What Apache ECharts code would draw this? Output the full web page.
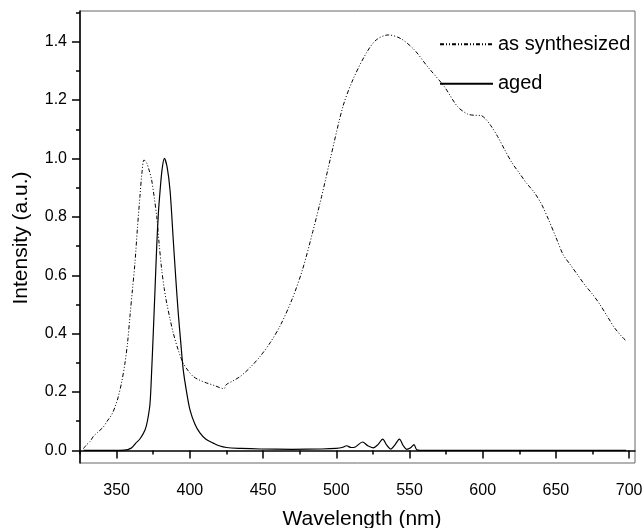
<!DOCTYPE html>
<style>
body {margin: 0;}
#div_echart {height: 528px; width: 644px;}
</style>
<script src='https://cdn.jsdelivr.net/npm/echarts@6/dist/echarts.min.js'></script>
<div id='div_echart'></div>
<script>
// spectra: wavelength (nm) and intensity (a.u.)
let synthWl = [327.3, 329.6, 331.8, 334.1, 337, 340.9, 343.5, 346.6, 349, 351.2, 353.5, 355.7, 357.5, 359.1, 360.8, 362.5, 364.2, 365.9, 367.3, 368.7, 370.5, 372.2, 373.9, 375.6, 377.4, 379, 380.8, 382.5, 384.2, 386.5, 388.7, 392, 395.5, 399, 402.4, 407, 411.5, 417, 422.9, 423.8, 424.8, 429, 434.3, 441, 448, 455, 462, 470, 477, 484, 490, 496, 504.5, 511.3, 520.4, 527.3, 535.5, 544.2, 553.3, 562.4, 573.8, 582.9, 589.7, 594, 598.8, 602, 605.6, 610.2, 615, 620, 625, 630, 635, 640, 645, 650, 655, 660, 665, 670, 675, 680, 685, 690, 695, 698]
let synthInt = [0.006, 0.02, 0.03, 0.048, 0.062, 0.08, 0.1, 0.122, 0.15, 0.185, 0.235, 0.299, 0.37, 0.459, 0.55, 0.641, 0.76, 0.869, 0.95, 0.995, 0.985, 0.96, 0.927, 0.87, 0.801, 0.71, 0.619, 0.555, 0.505, 0.45, 0.402, 0.345, 0.299, 0.272, 0.253, 0.24, 0.231, 0.222, 0.212, 0.213, 0.225, 0.237, 0.253, 0.283, 0.322, 0.37, 0.43, 0.52, 0.62, 0.75, 0.87, 1.0, 1.177, 1.269, 1.36, 1.406, 1.423, 1.41, 1.372, 1.314, 1.246, 1.177, 1.152, 1.148, 1.147, 1.135, 1.112, 1.075, 1.03, 0.985, 0.95, 0.915, 0.885, 0.845, 0.79, 0.73, 0.67, 0.635, 0.6, 0.565, 0.535, 0.5, 0.46, 0.42, 0.39, 0.375]
let agedWl = [327.5, 340, 355, 360, 363.1, 366, 369.4, 371, 372.8, 374, 375.1, 376.3, 377.4, 378.5, 379.7, 381, 382.6, 384.5, 386.5, 388.7, 390.4, 392.1, 393.8, 395.5, 397.8, 400.1, 403.5, 406.9, 411, 416, 420, 425.1, 435, 448, 470, 490, 500, 504, 507.1, 510, 513, 518, 521.5, 525.3, 528.5, 531.7, 534.5, 537.2, 540.2, 543.1, 545.8, 548.1, 550.5, 553.1, 555, 560, 600, 698]
let agedInt = [0, 0, 0.001, 0.008, 0.025, 0.04, 0.07, 0.1, 0.16, 0.28, 0.41, 0.56, 0.7, 0.81, 0.89, 0.96, 1.0, 0.97, 0.89, 0.72, 0.59, 0.47, 0.37, 0.276, 0.2, 0.139, 0.09, 0.06, 0.038, 0.025, 0.016, 0.01, 0.007, 0.005, 0.004, 0.005, 0.007, 0.01, 0.016, 0.01, 0.012, 0.029, 0.016, 0.009, 0.02, 0.039, 0.018, 0.005, 0.02, 0.039, 0.016, 0.004, 0.008, 0.02, 0.002, 0, 0, 0]
let seriesNames = ['as synthesized', 'aged']
let xTicks = [350, 400, 450, 500, 550, 600, 650, 700]
let xMinor = [325, 375, 425, 475, 525, 575, 625, 675]
let yTicks = [0, 0.2, 0.4, 0.6, 0.8, 1.0, 1.2, 1.4]
let yMinor = [0.1, 0.3, 0.5, 0.7, 0.9, 1.1, 1.3, 1.5]
let xTitle = 'Wavelength (nm)'
let yTitle = 'Intensity (a.u.)'

let font = 'Liberation Sans'
let echart = echarts.init(document.getElementById('div_echart'))
let zip = (xs, ys) => xs.map((x, i) => [x, ys[i]])
let xRange = {type: 'value', min: 325, max: 704, splitLine: {show: false}}
let yRange = {type: 'value', min: -0.043, max: 1.505, splitLine: {show: false}}
echart.setOption({
	animation: false,
	grid: {left: 80, right: 9, top: 11, bottom: 65, containLabel: false, outerBoundsMode: 'none',
		show: true, borderColor: '#666', borderWidth: 1},
	legend: {
		orient: 'vertical', left: 434, top: 22, itemWidth: 53, itemHeight: 20, itemGap: 5,
		itemStyle: {opacity: 0},
		textStyle: {fontFamily: font, fontSize: 20, color: '#000'},
		data: seriesNames
	},
	graphic: [
		{type: 'text', x: 362, y: 519, style: {text: xTitle, font: '21px "Liberation Sans"', fill: '#000',
			align: 'center', verticalAlign: 'middle'}},
		{type: 'text', x: 21, y: 238, rotation: Math.PI / 2, style: {text: yTitle, font: '21px "Liberation Sans"',
			fill: '#000', align: 'center', verticalAlign: 'middle'}}
	],
	xAxis: [
		{...xRange, position: 'bottom',
			axisLine: {lineStyle: {color: '#000', width: 1.5}},
			axisTick: {customValues: xTicks, length: 8, lineStyle: {color: '#000', width: 1.5}},
			axisLabel: {customValues: xTicks, margin: 14, fontFamily: font, fontSize: 16, color: '#000'}},
		{...xRange, position: 'bottom', axisLine: {show: false},
			axisTick: {customValues: xMinor, length: 4, lineStyle: {color: '#000', width: 1.5}},
			axisLabel: {show: false}}
	],
	yAxis: [
		{...yRange, position: 'left',
			axisLine: {lineStyle: {color: '#000', width: 1.5}},
			axisTick: {customValues: yTicks, length: 8, lineStyle: {color: '#000', width: 1.5}},
			axisLabel: {customValues: yTicks, margin: 13, fontFamily: font, fontSize: 16, color: '#000',
				formatter: v => v.toFixed(1)}},
		{...yRange, position: 'left', axisLine: {show: false},
			axisTick: {customValues: yMinor, length: 4, lineStyle: {color: '#000', width: 1.5}},
			axisLabel: {show: false}}
	],
	series: [
		{name: seriesNames[0], type: 'line', showSymbol: false, symbol: 'none', smooth: 0.3,
			color: '#000', lineStyle: {color: '#000', width: 1, type: [4, 2, 1, 2, 1, 2]},
			data: zip(synthWl, synthInt)},
		{name: seriesNames[1], type: 'line', showSymbol: false, symbol: 'none', smooth: 0.3,
			color: '#000', lineStyle: {color: '#000', width: 1.2},
			data: zip(agedWl, agedInt)}
	]
})
</script>
